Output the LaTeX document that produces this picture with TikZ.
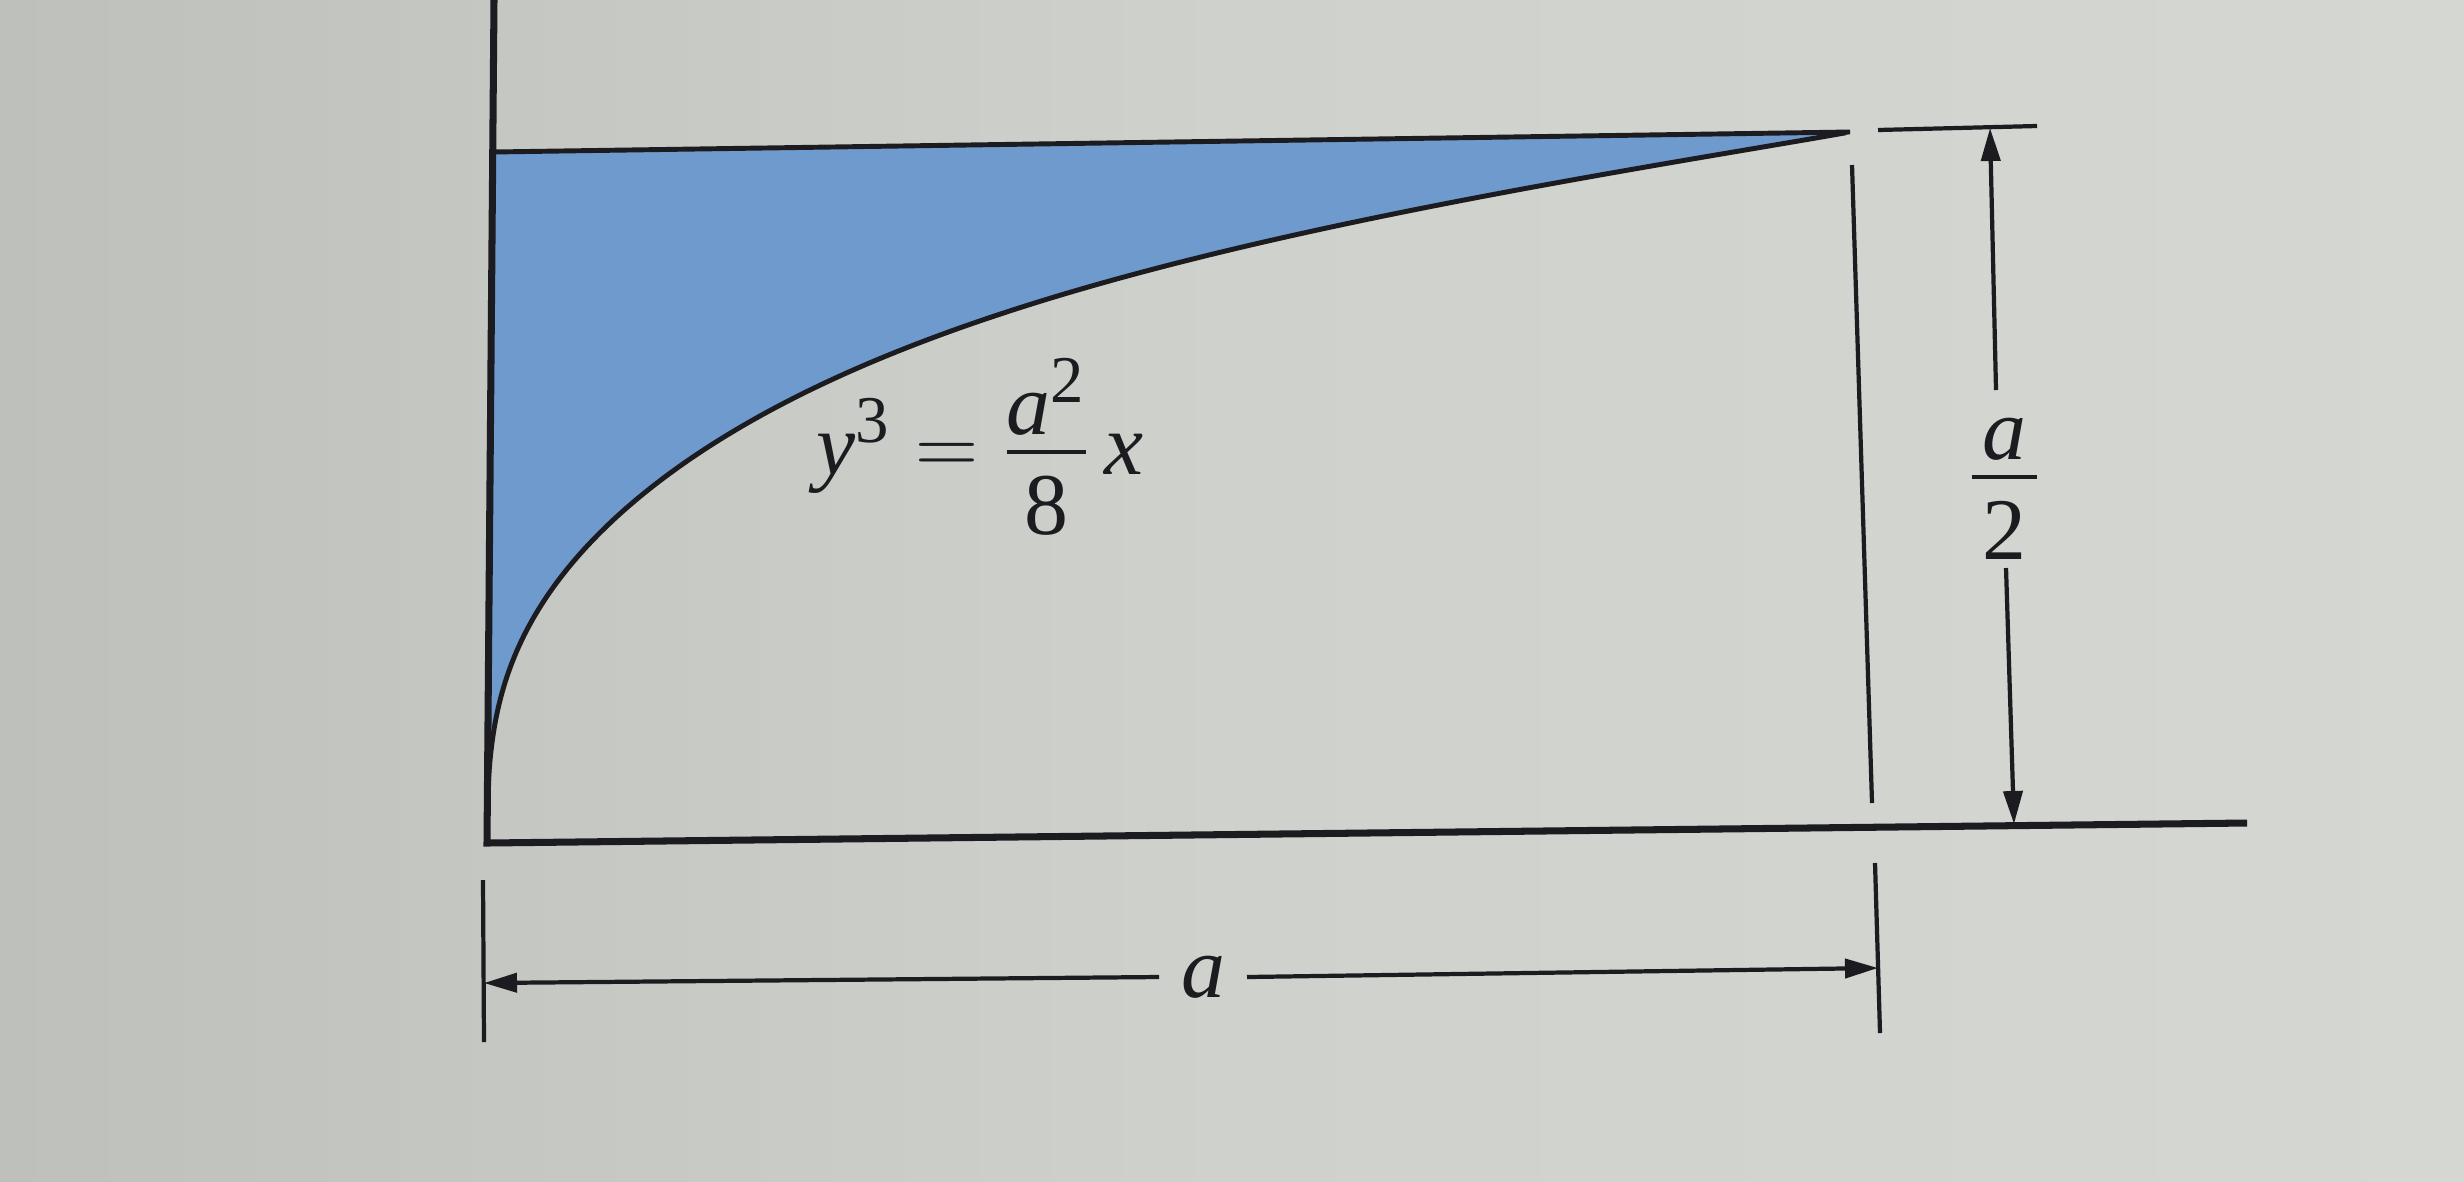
\documentclass[tikz,border=0pt]{standalone}
\usepackage{fontspec}
\setmainfont{Liberation Serif}
\usepackage{amsmath}
\usetikzlibrary{arrows.meta}
\definecolor{paperL}{RGB}{190,192,187}
\definecolor{paperM}{RGB}{207,209,204}
\definecolor{paperR}{RGB}{213,215,210}
\definecolor{areablue}{RGB}{110,154,206}
\definecolor{ink}{RGB}{28,28,32}
\tikzset{
  axisline/.style={ink, line width=2pt},
  curveline/.style={ink, line width=1.4pt},
  dimline/.style={ink, line width=1.2pt},
  dimarrow/.style={dimline, -{Triangle[length=3.3mm, width=1.9mm]}},
  lbl/.style={ink, font=\fontsize{25}{30}\selectfont, inner sep=0pt},
  declare function={
    ss(\u)=\u*\u*\u - 2.5*\u*\u*\u*\u*\u*\u*(1-\u)*sqrt(abs(1-\u));
    cx(\u)=(1-ss(\u))*(487+6*\u) + 1850*ss(\u);
    cy(\u)=(1-ss(\u))*(843-691*\u) + ss(\u)*(827-695*\u);
  },
}
\newcommand{\numdown}[1]{\raisebox{-5.5pt}[\height][0pt]{#1}}
\newcommand{\bigsup}[1]{^{\text{\fontsize{19}{22}\selectfont #1}}}
\begin{document}
\begin{tikzpicture}[x=0.01cm, y=-0.01cm]
\shade[left color=paperL, right color=paperR, middle color=paperM] (0,0) rectangle (2464,1181);
\useasboundingbox (0,0) rectangle (2464,1181);

% main frame points
\coordinate (O) at (487,843);
\coordinate (TL) at (493,152);
\coordinate (TR) at (1850,132);
\coordinate (Ytop) at (494,0);
\coordinate (Xend) at (2247,823);

% shaded area between axis, top line and curve y^3 = a^2 x / 8
\fill[areablue] plot[variable=\u, domain=0:1, samples=200] ({cx(\u)},{cy(\u)}) -- (TL) -- cycle;
\draw[curveline] plot[variable=\u, domain=0:1, samples=200] ({cx(\u)},{cy(\u)});
\draw[curveline] (TL) -- (TR);

% axes
\draw[axisline] (Ytop) -- (O) -- (Xend);

% extension line at x = a
\coordinate (E1) at (1852,165);
\coordinate (E2) at (1872,803);
\draw[dimline] (E1) -- (E2);

% height dimension a/2
\coordinate (H1) at (1878,130);
\coordinate (H2) at (2037,126);
\draw[dimline] (H1) -- (H2);
\coordinate (HA) at (1990,128);
\coordinate (HB) at (2014,824);
\coordinate (G1) at (1996,390);
\coordinate (G2) at (2006,568);
\node[lbl, anchor=base] (half) at (2004,499)
  {$\dfrac{\numdown{\hspace{3pt}\textit{a}\hspace{3pt}}}{\text{2}}$};
\draw[dimarrow] (G1) -- (HA);
\draw[dimarrow] (G2) -- (HB);

% width dimension a
\coordinate (L1) at (483,880);
\coordinate (L2) at (484,1042);
\coordinate (R1) at (1875,863);
\coordinate (R2) at (1880,1033);
\draw[dimline] (L1) -- (L2);
\draw[dimline] (R1) -- (R2);
\coordinate (LA) at (484,983);
\coordinate (RA) at (1878,968);
\node[lbl, outer sep=0.22cm] (alab) at (1203,977) {\textit{a}};
\draw[dimarrow] (alab.west) -- (LA);
\draw[dimarrow] (alab.east) -- (RA);

% curve equation
\node[lbl, anchor=base] (eq) at (980,474)
  {$\textit{y}\bigsup{3} = \dfrac{\numdown{$\textit{a}\bigsup{2}$}}{\text{8}}\,\textit{x}$};
\end{tikzpicture}
\end{document}
